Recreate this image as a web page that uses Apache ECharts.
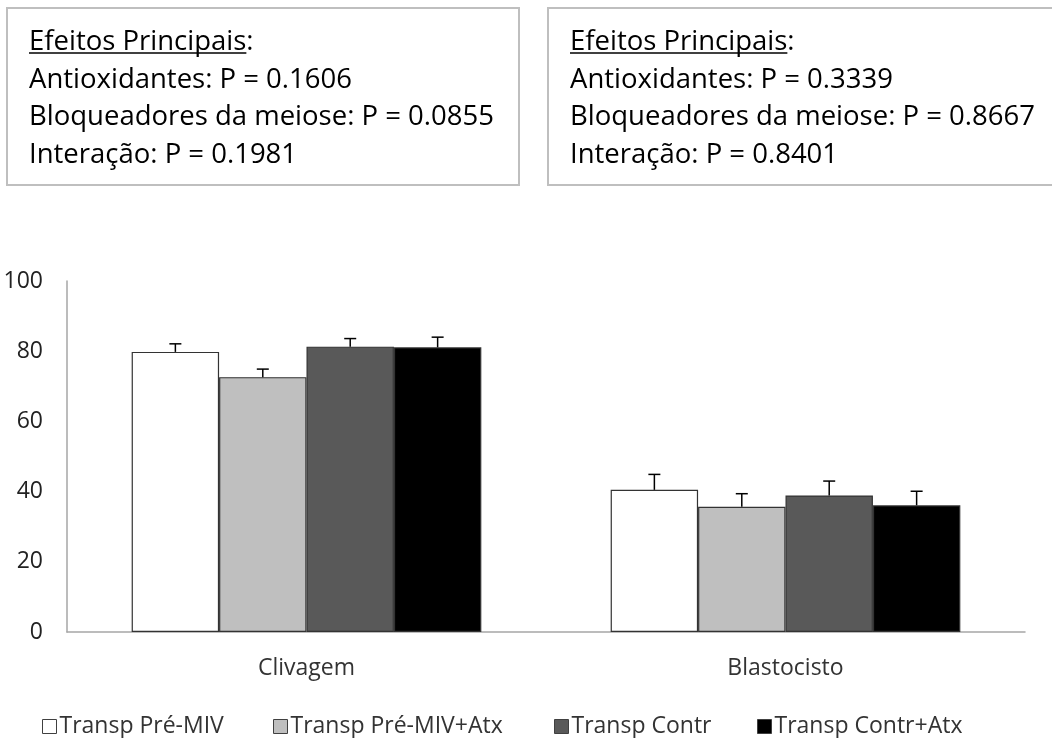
<!DOCTYPE html>
<html>
<head>
<meta charset="utf-8">
<script src="https://cdn.jsdelivr.net/npm/echarts@6/dist/echarts.min.js"></script>
<style>
  html, body { margin: 0; padding: 0; background: #fff; }
  #chart { width: 1052px; height: 738px; }
</style>
</head>
<body>
<div id="chart"></div>
<script>
// Categories and group values (mean % with SEM)
const categories = ['Clivagem', 'Blastocisto'];
const seriesNames = ['Transp Pré-MIV', 'Transp Pré-MIV+Atx', 'Transp Contr', 'Transp Contr+Atx'];
const preMIV = [79.8, 40.5];
const preMIVErr = [2.3, 4.4];
const preMIVAtx = [72.6, 35.7];
const preMIVAtxErr = [2.3, 3.7];
const contr = [81.3, 38.9];
const contrErr = [2.3, 4.1];
const contrAtx = [81.1, 36.1];
const contrAtxErr = [2.9, 4.0];
const yTicks = [0, 20, 40, 60, 80, 100];

// Statistics panels
const statsLeft = ['Efeitos Principais', 'Antioxidantes: P = 0.1606', 'Bloqueadores da meiose: P = 0.0855', 'Interação: P = 0.1981'];
const statsRight = ['Efeitos Principais', 'Antioxidantes: P = 0.3339', 'Bloqueadores da meiose: P = 0.8667', 'Interação: P = 0.8401'];

const FONT = '"Open Sans", "Noto Sans", sans-serif';
const fills = ['#ffffff', '#bfbfbf', '#595959', '#000000'];
const values = [preMIV, preMIVAtx, contr, contrAtx];
const errors = [preMIVErr, preMIVAtxErr, contrErr, contrAtxErr];
const CAT_GAP = 0.27;

function measure(text, font) {
  const c = document.createElement('canvas').getContext('2d');
  c.font = font;
  return c.measureText(text).width;
}

function statsPanel(x, y, w, h, lines) {
  const fs = 27.5, lh = 37.7, tx = x + 22, ty = y + 34;
  const els = [{
    type: 'rect', shape: { x: x, y: y, width: w, height: h },
    style: { fill: '#fff', stroke: '#bfbfbf', lineWidth: 2 }
  }];
  lines.forEach((t, i) => {
    els.push({
      type: 'text', x: tx, y: ty + i * lh,
      style: { text: i === 0 ? t + ':' : t, font: fs + 'px ' + FONT, fill: '#000', textVerticalAlign: 'middle' }
    });
  });
  const uw = measure(lines[0], fs + 'px ' + FONT);
  els.push({
    type: 'line', shape: { x1: tx, y1: ty + 11, x2: tx + uw, y2: ty + 11 },
    style: { stroke: '#000', lineWidth: 1.6 }
  });
  return els;
}

const chart = echarts.init(document.getElementById('chart'), null, { renderer: 'canvas' });

const barSeries = seriesNames.map((name, k) => ({
  name: name,
  type: 'bar',
  data: values[k],
  barGap: '0%',
  barCategoryGap: (CAT_GAP * 100) + '%',
  itemStyle: { color: fills[k], borderColor: '#333', borderWidth: 1.2 },
  z: 2
}));

const errSeries = seriesNames.map((name, k) => ({
  type: 'custom',
  data: values[k].map((v, i) => [i, v, errors[k][i]]),
  encode: { x: 0, y: 1 },
  z: 3,
  silent: true,
  renderItem: function (params, api) {
    const xi = api.value(0), v = api.value(1), e = api.value(2);
    const base = api.coord([xi, v]);
    const top = api.coord([xi, v + e]);
    const band = api.size([1, 0])[0];
    const bw = band * (1 - CAT_GAP) / seriesNames.length;
    const cx = base[0] + (k - (seriesNames.length - 1) / 2) * bw;
    const cap = 6;
    return {
      type: 'group',
      children: [
        { type: 'line', shape: { x1: cx, y1: base[1], x2: cx, y2: top[1] }, style: { stroke: '#000', lineWidth: 1.5 } },
        { type: 'line', shape: { x1: cx - cap, y1: top[1], x2: cx + cap, y2: top[1] }, style: { stroke: '#000', lineWidth: 1.5 } }
      ]
    };
  }
}));

const legendLeft = [37, 268, 549, 752];
const legends = seriesNames.map((name, k) => ({
  data: [name],
  left: legendLeft[k],
  top: 710,
  icon: 'rect',
  itemWidth: 14,
  itemHeight: 14,
  itemStyle: { borderColor: '#404040', borderWidth: 1 },
  textStyle: { fontFamily: FONT, fontSize: 23, color: '#333', padding: [0, 0, 0, -2] },
  selectedMode: false
}));

chart.setOption({
  animation: false,
  backgroundColor: '#fff',
  grid: { left: 67, right: 27, top: 281, bottom: 106, containLabel: false },
  xAxis: {
    type: 'category',
    data: categories,
    axisLine: { lineStyle: { color: '#a6a6a6', width: 1.5 } },
    axisTick: { show: false },
    axisLabel: { fontFamily: FONT, fontSize: 23, color: '#333', margin: 25 }
  },
  yAxis: {
    type: 'value',
    min: yTicks[0],
    max: yTicks[yTicks.length - 1],
    interval: yTicks[1] - yTicks[0],
    axisLine: { show: true, lineStyle: { color: '#a6a6a6', width: 1.5 } },
    axisTick: { show: false },
    splitLine: { show: false },
    axisLabel: { fontFamily: FONT, fontSize: 23, color: '#222', margin: 24 }
  },
  legend: legends,
  series: barSeries.concat(errSeries),
  graphic: statsPanel(7, 8, 512, 177, statsLeft).concat(statsPanel(548, 8, 520, 177, statsRight))
});
</script>
</body>
</html>
